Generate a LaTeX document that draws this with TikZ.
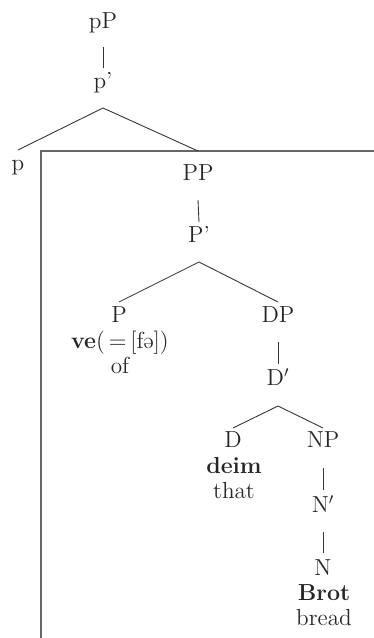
\documentclass[tikz,border=0pt]{standalone}
\usetikzlibrary{positioning}
\begin{document}
\begin{tikzpicture}[
  font=\fontsize{13.2}{15}\selectfont,
  cat/.style={anchor=base, inner sep=0pt, text=black!85},
  word/.style={anchor=base, inner sep=0pt, text=black!85},
  branch/.style={draw=black!80, line width=0.5pt},
  frame/.style={draw=black!60, line width=0.65pt},
]
  \useasboundingbox (0,0) rectangle (7.48,-12.76);

  % Category nodes
  \node[cat] (pP) at (2.06, -0.56)  {pP};
  \node[cat] (p1) at (2.06, -1.76)  {p’};
  \node[cat] (p)  at (0.36, -3.40)  {p};
  \node[cat] (PP) at (3.96, -3.60)  {PP};
  \node[cat] (P1) at (3.98, -4.84)  {P’};
  \node[cat] (P)  at (2.38, -6.44)  {P};
  \node[cat] (DP) at (5.56, -6.44)  {DP};
  \node[cat] (D1) at (5.56, -7.70)  {D$'$};
  \node[cat] (D)  at (4.66, -8.94)  {D};
  \node[cat] (NP) at (6.46, -8.94)  {NP};
  \node[cat] (N1) at (6.46, -10.24) {N$'$};
  \node[cat] (N)  at (6.46, -11.50) {N};

  % Words and glosses
  \node[word] (veP)   at (2.40, -6.96)  {\textbf{ve}(\,=\,[fə])};
  \node[word] (ofP)   at (2.40, -7.46)  {of};
  \node[word] (deimD) at (4.68, -9.46)  {\textbf{deim}};
  \node[word] (thatD) at (4.68, -9.96)  {that};
  \node[word] (BrotN) at (6.48, -12.00) {\textbf{Brot}};
  \node[word] (breadN)at (6.48, -12.50) {bread};

  % Frame round the PP
  \draw[frame] (7.48, -3.02) -- (0.82, -3.02) -- (0.82, -12.76);

  % Branches
  \draw[branch] ([yshift=-0.38cm]pP.base) -- ([yshift=0.40cm]p1.base);
  \draw[branch] ([yshift=-0.40cm]p1.base) -- ([yshift=0.40cm]p.base);
  \draw[branch] ([yshift=-0.40cm]p1.base) -- ([yshift=0.58cm]PP.base);
  \draw[branch] ([yshift=-0.40cm]PP.base) -- ([yshift=0.40cm]P1.base);
  \draw[branch] ([yshift=-0.40cm]P1.base) -- ([yshift=0.40cm]P.base);
  \draw[branch] ([yshift=-0.40cm]P1.base) -- ([yshift=0.40cm]DP.base);
  \draw[branch] ([yshift=-0.40cm]DP.base) -- ([yshift=0.42cm]D1.base);
  \draw[branch] ([yshift=-0.42cm]D1.base) -- ([yshift=0.38cm]D.base);
  \draw[branch] ([yshift=-0.42cm]D1.base) -- ([yshift=0.38cm]NP.base);
  \draw[branch] ([yshift=-0.42cm]NP.base) -- ([yshift=0.44cm]N1.base);
  \draw[branch] ([yshift=-0.40cm]N1.base) -- ([yshift=0.44cm]N.base);
\end{tikzpicture}
\end{document}
